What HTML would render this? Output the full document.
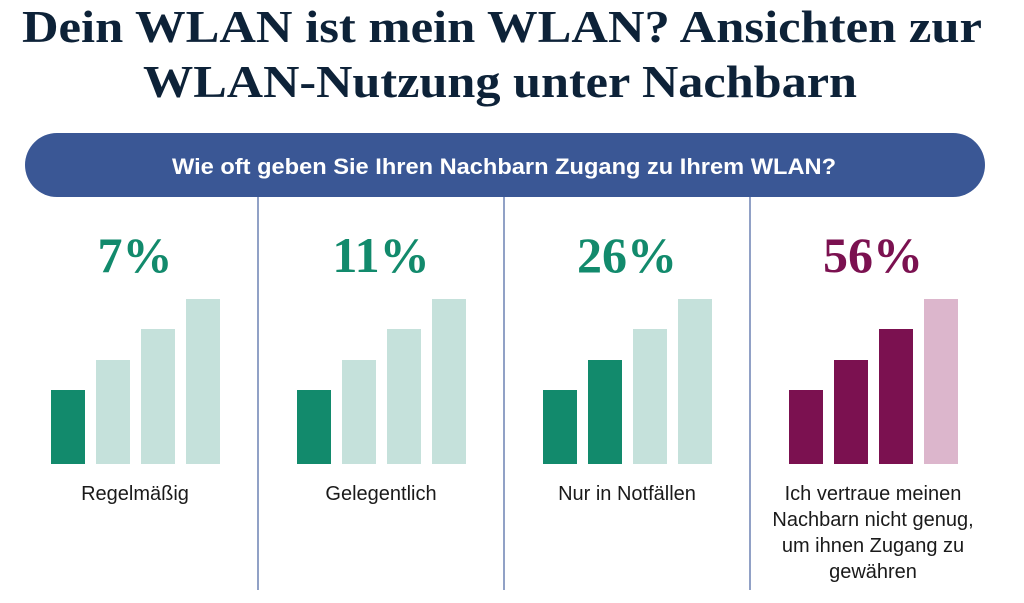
<!DOCTYPE html>
<html><head><meta charset="utf-8"><style>
html,body{margin:0;padding:0;background:#fff;}
svg{display:block}
</style></head><body>
<svg width="1024" height="603" viewBox="0 0 1024 603" xmlns="http://www.w3.org/2000/svg">
<g font-family="Liberation Serif, serif" font-weight="bold" fill="#0d2238" font-size="46">
<text x="22" y="42" textLength="960" lengthAdjust="spacingAndGlyphs">Dein WLAN ist mein WLAN? Ansichten zur</text>
<text x="143" y="97" textLength="714" lengthAdjust="spacingAndGlyphs">WLAN-Nutzung unter Nachbarn</text>
</g>
<rect x="25" y="133" width="960" height="64" rx="32" fill="#3a5795"/>
<text x="172" y="174" textLength="664" lengthAdjust="spacingAndGlyphs" font-family="Liberation Sans, sans-serif" font-weight="bold" font-size="22" fill="#fff">Wie oft geben Sie Ihren Nachbarn Zugang zu Ihrem WLAN?</text>
<g stroke="#6d82b3" stroke-width="1.5">
<line x1="258" y1="197" x2="258" y2="590"/><line x1="504" y1="197" x2="504" y2="590"/><line x1="750" y1="197" x2="750" y2="590"/>
</g>
<g font-family="Liberation Serif, serif" font-weight="bold" font-size="50" text-anchor="middle">
<text x="135" y="272" fill="#128a6c">7%</text>
<text x="381" y="272" fill="#128a6c">11%</text>
<text x="627" y="272" fill="#128a6c">26%</text>
<text x="873" y="272" fill="#7b1150">56%</text>
</g>
<rect x="51" y="390" width="34" height="74" fill="#128a6c"/>
<rect x="96" y="360" width="34" height="104" fill="#c5e1db"/>
<rect x="141" y="329" width="34" height="135" fill="#c5e1db"/>
<rect x="186" y="299" width="34" height="165" fill="#c5e1db"/>
<rect x="297" y="390" width="34" height="74" fill="#128a6c"/>
<rect x="342" y="360" width="34" height="104" fill="#c5e1db"/>
<rect x="387" y="329" width="34" height="135" fill="#c5e1db"/>
<rect x="432" y="299" width="34" height="165" fill="#c5e1db"/>
<rect x="543" y="390" width="34" height="74" fill="#128a6c"/>
<rect x="588" y="360" width="34" height="104" fill="#128a6c"/>
<rect x="633" y="329" width="34" height="135" fill="#c5e1db"/>
<rect x="678" y="299" width="34" height="165" fill="#c5e1db"/>
<rect x="789" y="390" width="34" height="74" fill="#7b1150"/>
<rect x="834" y="360" width="34" height="104" fill="#7b1150"/>
<rect x="879" y="329" width="34" height="135" fill="#7b1150"/>
<rect x="924" y="299" width="34" height="165" fill="#dcb6cc"/>
<g font-family="Liberation Sans, sans-serif" font-size="20" fill="#1a1a1a" text-anchor="middle">
<text x="135" y="500">Regelmäßig</text>
<text x="381" y="500">Gelegentlich</text>
<text x="627" y="500">Nur in Notfällen</text>
<text x="873" y="500">Ich vertraue meinen</text>
<text x="873" y="526">Nachbarn nicht genug,</text>
<text x="873" y="552">um ihnen Zugang zu</text>
<text x="873" y="578">gewähren</text>
</g>
</svg>
</body></html>
